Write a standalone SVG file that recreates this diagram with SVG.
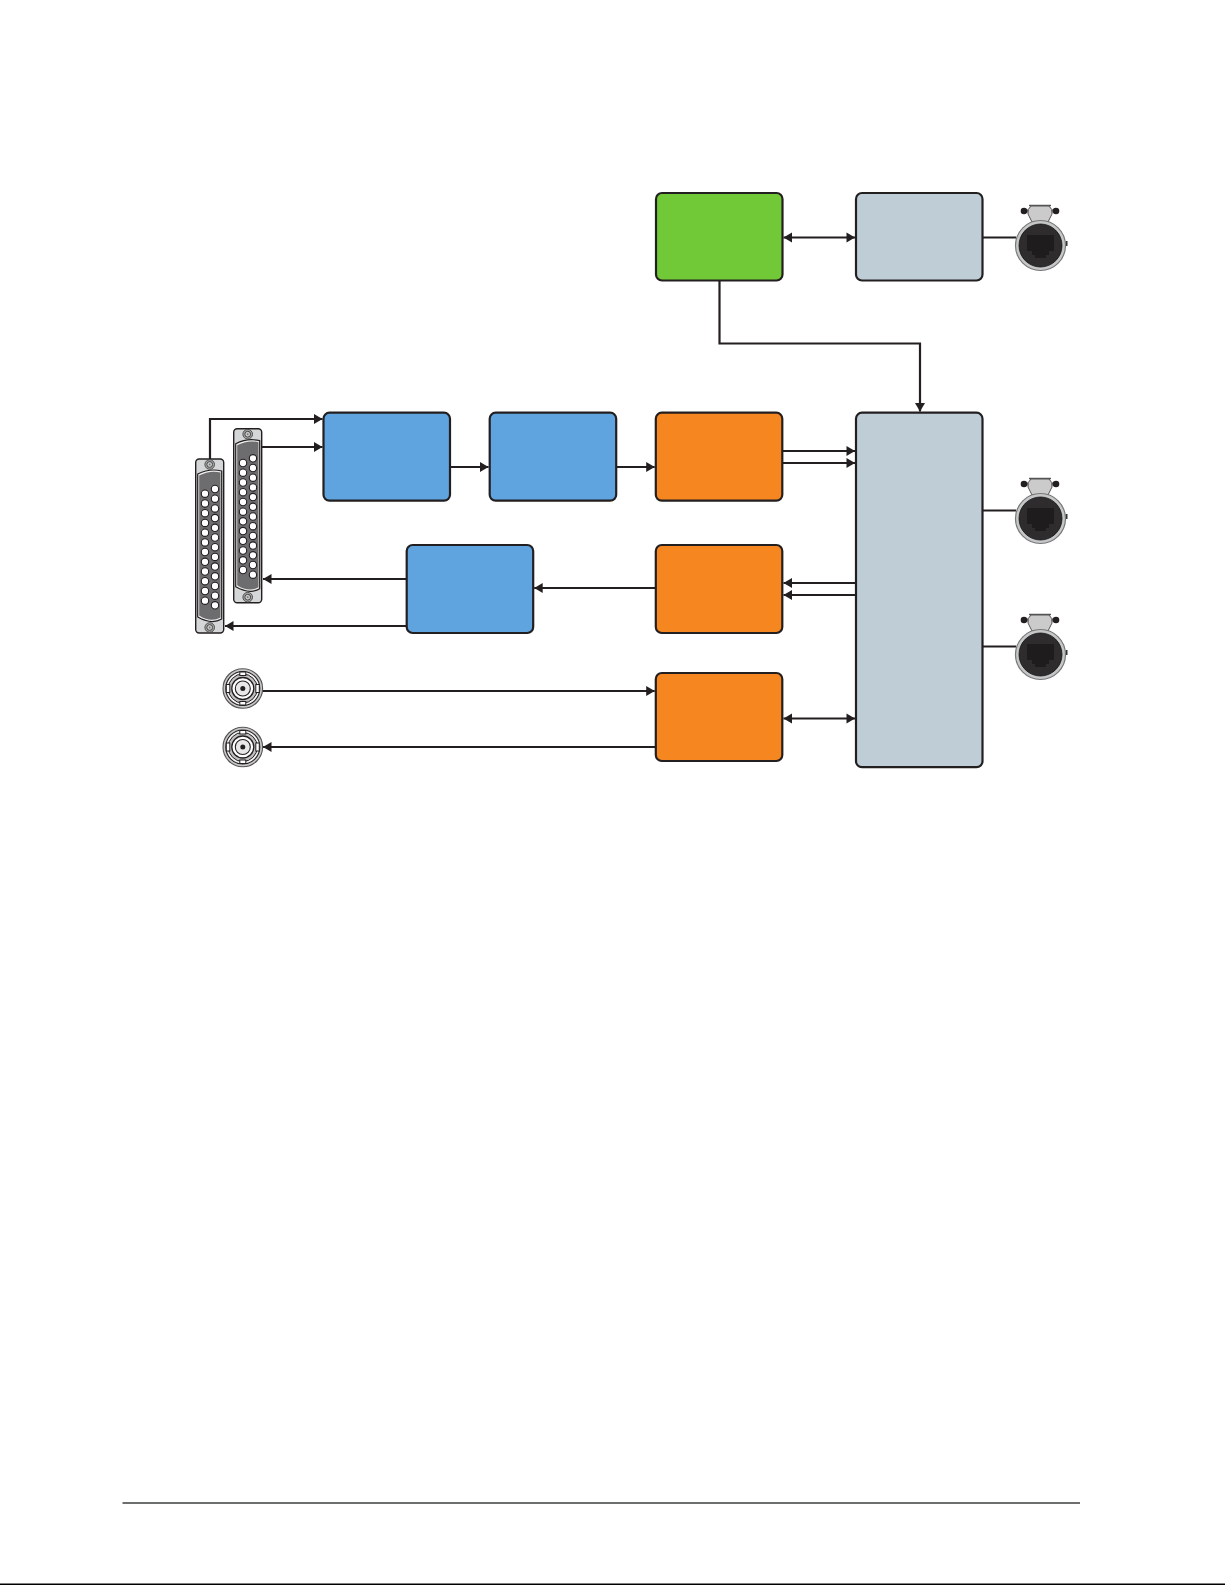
<svg xmlns="http://www.w3.org/2000/svg" xmlns:xlink="http://www.w3.org/1999/xlink" width="1225" height="1585" viewBox="0 0 1225 1585">
<style>
.box{stroke:#231f20;stroke-width:2.2;}
.orange{fill:#f6861f}.green{fill:#72c937}.blue{fill:#5fa3df}.grey{fill:#bfced6}
.c{fill:none;stroke:#231f20;stroke-width:2.2}
.a{marker-end:url(#ah)}
.d{marker-start:url(#as);marker-end:url(#ah)}
.pin{fill:#fff;stroke:#231f20;stroke-width:1.1}
</style>
<defs>
<marker id="ah" markerUnits="userSpaceOnUse" markerWidth="11" markerHeight="12" refX="9.500" refY="6" orient="auto"><path d="M1 1L9.500 6L1 11Z" fill="#231f20"/></marker>
<marker id="as" markerUnits="userSpaceOnUse" markerWidth="11" markerHeight="12" refX="1.500" refY="6" orient="auto"><path d="M10 1L1.500 6L10 11Z" fill="#231f20"/></marker>
<g id="screw"><circle r="4.800" fill="#a8a8a8" stroke="#444" stroke-width=".9"/><circle r="2.900" fill="#c8c8c8" stroke="#444" stroke-width="1"/><circle r=".9" fill="#777"/></g>
<g id="dsub">
<rect x="0" y="0" width="28" height="174" rx="3.500" fill="#d5d6d8" stroke="#231f20" stroke-width="1.400"/>
<path d="M2 15Q14 9 26 12V160Q16 166 2 158Z" fill="#ececec" stroke="#231f20" stroke-width="1.200"/>
<path d="M3.500 16.500Q14 11 24.800 13.500V158.500Q15 164 3.500 156.500Z" fill="#6d6d6f"/>
<use xlink:href="#screw" x="14" y="5.500"/>
<use xlink:href="#screw" x="14" y="168.500"/>
</g>
<g id="rj45">
<rect x="1024" y="209.500" width="32" height="3" fill="#666"/>
<circle cx="1024" cy="211" r="3.300" fill="#231f20"/><circle cx="1056" cy="211" r="3.300" fill="#231f20"/>
<path d="M1029 205.500H1051" stroke="#555" stroke-width="1.500" fill="none"/>
<path d="M1031 206H1049Q1053 209 1052 214L1048 222H1032L1028 214Q1027 209 1031 206Z" fill="#cbcbcb" stroke="#555" stroke-width="1"/>
<rect x="1065.500" y="241" width="2" height="5" fill="#333"/>
<circle cx="1040.500" cy="245.500" r="25" fill="#c6c7c8" stroke="#777" stroke-width="1.200"/>
<circle cx="1040.500" cy="245.500" r="21.500" fill="#2f2c2d" stroke="#111" stroke-width=".8"/>
<path d="M1027 235H1054V251H1049V255H1046V258H1035V255H1032V251H1027Z" fill="#1f1c1d"/>
</g>
<g id="bnc" fill="none" stroke="#231f20">
<circle r="19.800" fill="#c8c8c8" stroke="#555" stroke-width="1.100"/>
<circle r="17" fill="#f4f4f4" stroke-width="1.100"/>
<circle r="14.500" fill="#c0c0c0" stroke-width="1"/>
<rect x="-3" y="-16.500" width="6" height="3.500" fill="#fff" stroke-width="1"/>
<rect x="-3" y="13" width="6" height="3.500" fill="#fff" stroke-width="1"/>
<rect x="-16.500" y="-4" width="3.500" height="8" fill="#fff" stroke-width="1"/>
<rect x="13" y="-4" width="3.500" height="8" fill="#fff" stroke-width="1"/>
<circle r="11" fill="#fff" stroke-width="1.300"/>
<circle r="7.500" fill="#e8e8e8" stroke-width="1.100"/>
<circle r="2.500" fill="#231f20" stroke="none"/>
</g>
</defs>
<rect width="1225" height="1585" fill="#fff"/>
<g id="connectors">
<path class="c a" d="M210 459V419H322.500"/>
<path class="c a" d="M262 447H322.500"/>
<path class="c a" d="M406.500 579H263"/>
<path class="c a" d="M406.500 626H225"/>
<path class="c a" d="M450 467H488.500"/>
<path class="c a" d="M616.500 467H654.700"/>
<path class="c a" d="M782 451H855"/>
<path class="c a" d="M782 463H855"/>
<path class="c a" d="M856 583H783.500"/>
<path class="c a" d="M856 595H783.500"/>
<path class="c a" d="M655.500 588H534.200"/>
<path class="c a" d="M262 691H654.700"/>
<path class="c a" d="M655.500 747H263"/>
<path class="c d" d="M783.500 718.500H855"/>
<path class="c d" d="M783.500 237.500H855"/>
<path class="c a" d="M719.500 280V343.500H920V411.500"/>
<path class="c" d="M982 237.500H1016"/>
<path class="c" d="M982 510.500H1016"/>
<path class="c" d="M982 646.500H1016"/>
</g>
<g id="green-block"><rect class="box green" x="656" y="193" width="126.500" height="87.500" rx="6"/></g>
<g id="grey-block-top"><rect class="box grey" x="856" y="193" width="126.500" height="87.500" rx="6"/></g>
<g id="blue-block-1"><rect class="box blue" x="323.500" y="412.700" width="126.500" height="88" rx="6"/></g>
<g id="blue-block-2"><rect class="box blue" x="489.700" y="412.700" width="126.500" height="88" rx="6"/></g>
<g id="orange-block-1"><rect class="box orange" x="655.800" y="412.700" width="126.500" height="88" rx="6"/></g>
<g id="blue-block-3"><rect class="box blue" x="406.700" y="545" width="126.500" height="88" rx="6"/></g>
<g id="orange-block-2"><rect class="box orange" x="655.800" y="545" width="126.500" height="88" rx="6"/></g>
<g id="orange-block-3"><rect class="box orange" x="655.800" y="673" width="126.500" height="88" rx="6"/></g>
<g id="grey-block-main"><rect class="box grey" x="856" y="412.700" width="126.500" height="354.500" rx="6"/></g>
<g id="rj45-1"><use xlink:href="#rj45"/></g>
<g id="rj45-2"><use xlink:href="#rj45" y="273"/></g>
<g id="rj45-3"><use xlink:href="#rj45" y="409"/></g>
<g id="bnc-1"><use xlink:href="#bnc" x="242.800" y="688.500"/></g>
<g id="bnc-2"><use xlink:href="#bnc" x="242.800" y="747"/></g>
<g id="dsub-left">
<use xlink:href="#dsub" x="195.700" y="459"/>
<circle class="pin" cx="205" cy="493.700" r="3.700"/><circle class="pin" cx="205" cy="503.400" r="3.700"/><circle class="pin" cx="205" cy="513.200" r="3.700"/><circle class="pin" cx="205" cy="522.900" r="3.700"/><circle class="pin" cx="205" cy="532.700" r="3.700"/><circle class="pin" cx="205" cy="542.400" r="3.700"/><circle class="pin" cx="205" cy="552" r="3.700"/><circle class="pin" cx="205" cy="561.800" r="3.700"/><circle class="pin" cx="205" cy="571.500" r="3.700"/><circle class="pin" cx="205" cy="581.200" r="3.700"/><circle class="pin" cx="205" cy="591" r="3.700"/><circle class="pin" cx="205" cy="600.700" r="3.700"/>
<circle class="pin" cx="215" cy="489" r="3.700"/><circle class="pin" cx="215" cy="498.700" r="3.700"/><circle class="pin" cx="215" cy="508.400" r="3.700"/><circle class="pin" cx="215" cy="518.100" r="3.700"/><circle class="pin" cx="215" cy="527.800" r="3.700"/><circle class="pin" cx="215" cy="537.500" r="3.700"/><circle class="pin" cx="215" cy="547.200" r="3.700"/><circle class="pin" cx="215" cy="556.900" r="3.700"/><circle class="pin" cx="215" cy="566.600" r="3.700"/><circle class="pin" cx="215" cy="576.300" r="3.700"/><circle class="pin" cx="215" cy="586" r="3.700"/><circle class="pin" cx="215" cy="595.700" r="3.700"/><circle class="pin" cx="215" cy="605.300" r="3.700"/>
</g>
<g id="dsub-right">
<use xlink:href="#dsub" x="233.700" y="428.700"/>
<circle class="pin" cx="243" cy="463" r="3.700"/><circle class="pin" cx="243" cy="472.700" r="3.700"/><circle class="pin" cx="243" cy="482.500" r="3.700"/><circle class="pin" cx="243" cy="492.200" r="3.700"/><circle class="pin" cx="243" cy="502" r="3.700"/><circle class="pin" cx="243" cy="511.700" r="3.700"/><circle class="pin" cx="243" cy="521.300" r="3.700"/><circle class="pin" cx="243" cy="531.100" r="3.700"/><circle class="pin" cx="243" cy="540.800" r="3.700"/><circle class="pin" cx="243" cy="550.500" r="3.700"/><circle class="pin" cx="243" cy="560.300" r="3.700"/><circle class="pin" cx="243" cy="570" r="3.700"/>
<circle class="pin" cx="253" cy="458.300" r="3.700"/><circle class="pin" cx="253" cy="468" r="3.700"/><circle class="pin" cx="253" cy="477.700" r="3.700"/><circle class="pin" cx="253" cy="487.400" r="3.700"/><circle class="pin" cx="253" cy="497.100" r="3.700"/><circle class="pin" cx="253" cy="506.800" r="3.700"/><circle class="pin" cx="253" cy="516.500" r="3.700"/><circle class="pin" cx="253" cy="526.200" r="3.700"/><circle class="pin" cx="253" cy="535.900" r="3.700"/><circle class="pin" cx="253" cy="545.600" r="3.700"/><circle class="pin" cx="253" cy="555.300" r="3.700"/><circle class="pin" cx="253" cy="565" r="3.700"/><circle class="pin" cx="253" cy="574.700" r="3.700"/>
</g>
<rect id="page-rule" x="122.500" y="1502" width="957.500" height="2" fill="#6d6e6e"/>
<rect id="page-edge" x="0" y="1583.500" width="1225" height="1.500" fill="#000"/>
</svg>
